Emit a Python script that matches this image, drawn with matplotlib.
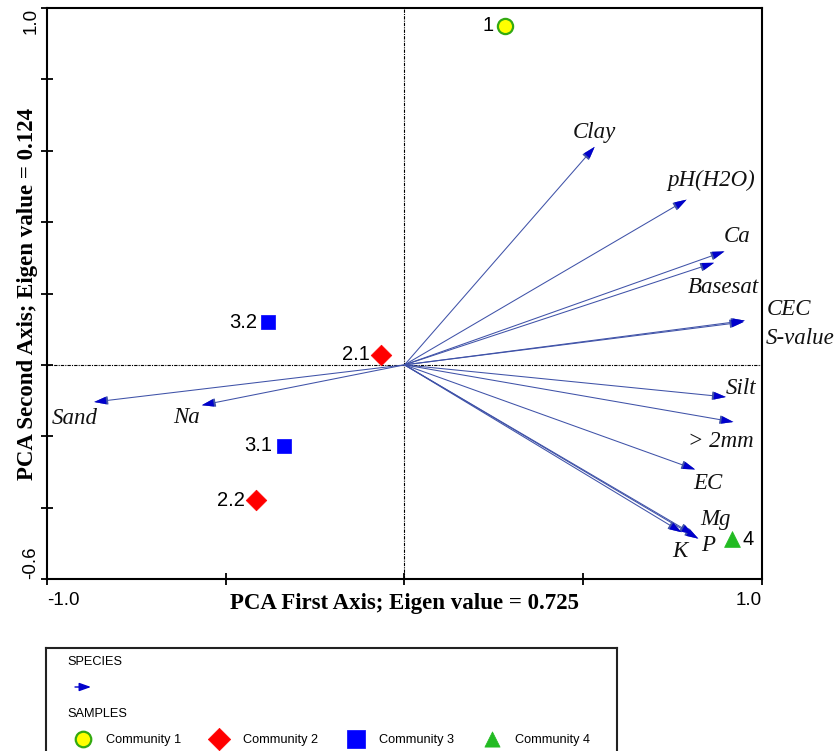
import matplotlib
matplotlib.use("Agg")
import matplotlib.pyplot as plt

# ---- data -------------------------------------------------------------
variables = ["Clay", "pH(H2O)", "Ca", "Basesat", "CEC", "S-value",
             "Silt", "> 2mm", "EC", "Mg", "P", "K", "Sand", "Na"]
var_axis1 = [0.532, 0.789, 0.895, 0.866, 0.952, 0.948,
             0.899, 0.920, 0.813, 0.808, 0.822, 0.775, -0.868, -0.567]
var_axis2 = [0.611, 0.463, 0.318, 0.286, 0.124, 0.120,
             -0.090, -0.160, -0.293, -0.475, -0.487, -0.469, -0.104, -0.113]

samples = ["1", "2.1", "2.2", "3.1", "3.2", "4"]
sample_axis1 = [0.281, -0.066, -0.415, -0.338, -0.382, 0.915]
sample_axis2 = [0.950, 0.029, -0.379, -0.226, 0.120, -0.489]
sample_group = [1, 2, 2, 3, 3, 4]

communities = ["Community 1", "Community 2", "Community 3", "Community 4"]

eig1 = 0.725
eig2 = 0.124

# ---- styles -----------------------------------------------------------
W, H, DPI = 837, 751, 100
SERIF = ["Liberation Serif", "DejaVu Serif"]
SANS = ["Liberation Sans", "DejaVu Sans"]
LINE_C = "#3f52a8"
HEAD_C = "#0000cc"

group_style = {
    1: dict(marker="o", s=120, facecolor="#ffff00", edgecolor="#33aa11", linewidths=1.6),
    2: dict(marker="D", s=110, facecolor="#ff0000", edgecolor="#ff0000", linewidths=0.5),
    3: dict(marker="s", s=105, facecolor="#0000ff", edgecolor="#0000ff", linewidths=0.5),
    4: dict(marker="^", s=130, facecolor="#22bb22", edgecolor="#22bb22", linewidths=0.5),
}

# label offsets (points) and alignment for each variable name
var_label_style = {
    "Clay":    ((0, 10), "center", "center"),
    "pH(H2O)": ((18, 14), "center", "center"),
    "Ca":      ((9, 11), "center", "center"),
    "Basesat": ((7, -18), "center", "center"),
    "CEC":     ((16, 8), "left", "center"),
    "S-value": ((16, -12), "left", "center"),
    "Silt":    ((11, 6), "center", "center"),
    "> 2mm":   ((-9, -14), "center", "center"),
    "EC":      ((9, -10), "center", "center"),
    "Mg":      ((16, 11), "center", "center"),
    "P":       ((7, -5), "center", "center"),
    "K":       ((-1, -14), "center", "center"),
    "Sand":    ((-14, -12), "center", "center"),
    "Na":      ((-11, -9), "center", "center"),
}

fig = plt.figure(figsize=(W / DPI, H / DPI), dpi=DPI)
ax = fig.add_axes([47 / W, 1 - 579 / H, 715 / W, 571 / H])
ax.set_xlim(-1.0, 1.0)
ax.set_ylim(-0.6, 1.0)

for sp in ax.spines.values():
    sp.set_linewidth(1.5)
    sp.set_color("black")

ax.axhline(0, color="black", lw=0.8, ls=(0, (3, 1, 1, 1)), zorder=1)
ax.axvline(0, color="black", lw=0.8, ls=(0, (3, 1, 1, 1)), zorder=1)

# environmental variable arrows
for name, x, y in zip(variables, var_axis1, var_axis2):
    ax.annotate("", xy=(x, y), xytext=(0, 0),
                arrowprops=dict(arrowstyle="-|>,head_length=0.7,head_width=0.22",
                                color=LINE_C, lw=0.75, shrinkA=0, shrinkB=0,
                                mutation_scale=12),
                zorder=2)
    ax.annotate("", xy=(x, y), xytext=(x * 0.97, y * 0.97),
                arrowprops=dict(arrowstyle="-|>,head_length=0.7,head_width=0.22",
                                color=HEAD_C, lw=0.1, shrinkA=0, shrinkB=0,
                                mutation_scale=12),
                zorder=3)
    off, ha, va = var_label_style[name]
    ax.annotate(name, xy=(x, y), xytext=off, textcoords="offset points",
                ha=ha, va=va, fontsize=16.5, style="italic", family=SERIF,
                color="#111111", zorder=4)

# sample points
for lab, x, y, g in zip(samples, sample_axis1, sample_axis2, sample_group):
    ax.scatter([x], [y], zorder=5, **group_style[g])
    if lab == "4":
        ax.annotate(lab, xy=(x, y), xytext=(8, 0), textcoords="offset points",
                    ha="left", va="center", fontsize=14.5, family=SANS)
    else:
        ax.annotate(lab, xy=(x, y), xytext=(-8, 0), textcoords="offset points",
                    ha="right", va="center", fontsize=14.5, family=SANS)

# ticks
xt = [-1.0, -0.5, 0.0, 0.5, 1.0]
yt = [-0.6, -0.4, -0.2, 0.0, 0.2, 0.4, 0.6, 0.8, 1.0]
ax.set_xticks(xt)
ax.set_xticklabels(["-1.0", "", "", "", "1.0"])
ax.set_yticks(yt)
ax.set_yticklabels(["-0.6", "", "", "", "", "", "", "", "1.0"])
ax.tick_params(direction="inout", length=9, width=1.3, labelsize=13.5)
ax.tick_params(axis="x", pad=5)
ax.tick_params(axis="y", labelrotation=90, pad=1)
xl = ax.get_xticklabels()
xl[0].set_ha("left")
xl[-1].set_ha("right")
yl = ax.get_yticklabels()
yl[0].set_va("bottom")
yl[-1].set_va("top")
for t in xl + yl:
    t.set_family(SANS)

ax.set_xlabel(f"PCA First Axis; Eigen value = {eig1}", fontsize=16.5,
              fontweight="bold", family=SERIF)
ax.set_ylabel(f"PCA Second Axis; Eigen value = {eig2}", fontsize=16.5,
              fontweight="bold", family=SERIF)
ax.xaxis.set_label_coords(0.5, -0.025)
ax.yaxis.set_label_coords(-0.013, 0.5)

# legend panel (pixel coordinates inside)
lg = fig.add_axes([46 / W, 0, (617 - 46) / W, (751 - 648) / H])
lg.set_xlim(46, 617)
lg.set_ylim(751, 648)
lg.set_xticks([])
lg.set_yticks([])
lg.spines["bottom"].set_visible(False)
for k in ("top", "left", "right"):
    lg.spines[k].set_linewidth(1.5)
    lg.spines[k].set_color("#222222")

lg.text(67, 662, "SPECIES", fontsize=9.2, family=SANS, va="center", ha="left")
lg.annotate("", xy=(91, 687), xytext=(75, 687),
            arrowprops=dict(arrowstyle="-|>,head_length=0.7,head_width=0.25",
                            color=HEAD_C, lw=1.0, shrinkA=0, shrinkB=0,
                            mutation_scale=10))
lg.text(67, 714, "SAMPLES", fontsize=9.2, family=SANS, va="center", ha="left")

legend_marker_x = [83, 219, 356, 492]
legend_text_x = [106, 243, 379, 515]
legend_sizes = [125, 130, 160, 120]
for g, name, mx, tx, sz in zip([1, 2, 3, 4], communities, legend_marker_x,
                               legend_text_x, legend_sizes):
    st = dict(group_style[g])
    st["s"] = sz
    lg.scatter([mx], [739], clip_on=False, **st)
    lg.text(tx, 740, name, fontsize=9.2, family=SANS, va="center", ha="left")

fig.savefig("out.png", dpi=DPI)
